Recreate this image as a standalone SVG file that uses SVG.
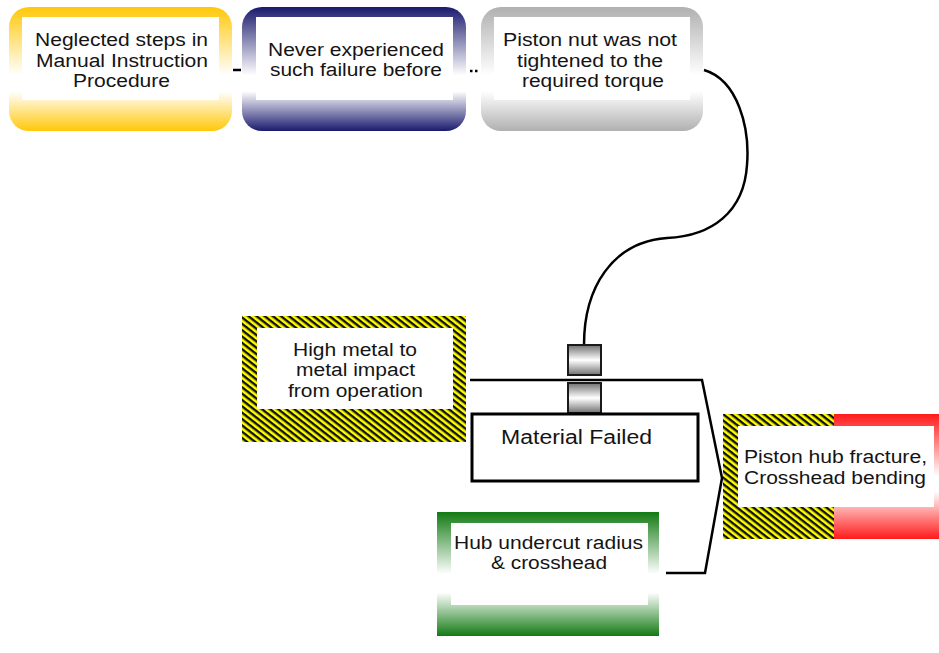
<svg xmlns="http://www.w3.org/2000/svg" width="939" height="653" viewBox="0 0 939 653">
  <defs>
    <linearGradient id="gYellow" x1="0" y1="0" x2="0" y2="1">
      <stop offset="0" stop-color="#FFC80A"/>
      <stop offset="0.55" stop-color="#FFFFFF"/>
      <stop offset="0.68" stop-color="#FFFFFF"/>
      <stop offset="1" stop-color="#FFC80A"/>
    </linearGradient>
    <linearGradient id="gNavy" x1="0" y1="0" x2="0" y2="1">
      <stop offset="0" stop-color="#1A1A6E"/>
      <stop offset="0.55" stop-color="#FFFFFF"/>
      <stop offset="0.68" stop-color="#FFFFFF"/>
      <stop offset="1" stop-color="#1A1A6E"/>
    </linearGradient>
    <linearGradient id="gGray" x1="0" y1="0" x2="0" y2="1">
      <stop offset="0" stop-color="#B0B0B0"/>
      <stop offset="0.55" stop-color="#FFFFFF"/>
      <stop offset="0.68" stop-color="#FFFFFF"/>
      <stop offset="1" stop-color="#B0B0B0"/>
    </linearGradient>
    <linearGradient id="gGreen" x1="0" y1="0" x2="0" y2="1">
      <stop offset="0" stop-color="#127A12"/>
      <stop offset="0.5" stop-color="#FFFFFF"/>
      <stop offset="0.65" stop-color="#FFFFFF"/>
      <stop offset="1" stop-color="#127A12"/>
    </linearGradient>
    <linearGradient id="gRed" x1="0" y1="0" x2="0" y2="1">
      <stop offset="0" stop-color="#FF1A1A"/>
      <stop offset="0.5" stop-color="#FFFFFF"/>
      <stop offset="0.62" stop-color="#FFFFFF"/>
      <stop offset="1" stop-color="#FF1A1A"/>
    </linearGradient>
    <linearGradient id="gPort" x1="0" y1="0" x2="0" y2="1">
      <stop offset="0" stop-color="#707070"/>
      <stop offset="0.5" stop-color="#FFFFFF"/>
      <stop offset="1" stop-color="#707070"/>
    </linearGradient>
    <!-- yellow/black warning stripes -->
    <pattern id="hazard" patternUnits="userSpaceOnUse" width="10" height="5" patternTransform="rotate(38)">
      <rect width="10" height="5" fill="#FFFF00"/>
      <rect width="10" height="2.4" fill="#111111"/>
    </pattern>
  </defs>
  <style>
    .lbl { font-family: "Liberation Sans", Arial, sans-serif; font-size: 18px; fill: #141414; text-anchor: middle; }
    .lft { text-anchor: start; }
    .inner { fill: #FFFFFF; }
    .wire { fill: none; stroke: #000000; stroke-width: 2.5; stroke-linejoin: miter; }
    .port { fill: url(#gPort); stroke: #1a1a1a; stroke-width: 2; }
  </style>

  <rect width="939" height="653" fill="#FFFFFF"/>

  <!-- connectors -->
  <g id="connectors">
    <line class="wire" x1="233" y1="70" x2="241" y2="70" stroke-width="3"/>
    <line class="wire" x1="470" y1="71" x2="480" y2="71" stroke-dasharray="2.5 2.5"/>
    <path class="wire" d="M704,70 C738,80 750,128 747,165 C744,212 712,236 667,238 C612,242 584,288 584,345"/>
    <path class="wire" d="M470,380 L702,380 L722,478 L705,573 L666,573"/>
  </g>

  <!-- top row causes -->
  <g id="node-neglected">
    <rect x="9" y="7" width="223" height="124" rx="20" fill="url(#gYellow)"/>
    <rect class="inner" x="22" y="17" width="197" height="83"/>
    <text class="lbl" x="121.5" y="46" textLength="173" lengthAdjust="spacingAndGlyphs">Neglected steps in</text>
    <text class="lbl" x="122" y="67" textLength="172" lengthAdjust="spacingAndGlyphs">Manual Instruction</text>
    <text class="lbl" x="121.5" y="87" textLength="97" lengthAdjust="spacingAndGlyphs">Procedure</text>
  </g>

  <g id="node-never">
    <rect x="242" y="7" width="224" height="124" rx="20" fill="url(#gNavy)"/>
    <rect class="inner" x="256" y="17" width="197" height="83"/>
    <text class="lbl" x="356" y="56" textLength="176" lengthAdjust="spacingAndGlyphs">Never experienced</text>
    <text class="lbl" x="356" y="76" textLength="172" lengthAdjust="spacingAndGlyphs">such failure before</text>
  </g>

  <g id="node-piston-nut">
    <rect x="481" y="7" width="222" height="124" rx="20" fill="url(#gGray)"/>
    <rect class="inner" x="494" y="17" width="196" height="83"/>
    <text class="lbl" x="590" y="46" textLength="174" lengthAdjust="spacingAndGlyphs">Piston nut was not</text>
    <text class="lbl" x="590" y="67" textLength="146" lengthAdjust="spacingAndGlyphs">tightened to the</text>
    <text class="lbl" x="593" y="87" textLength="142" lengthAdjust="spacingAndGlyphs">required torque</text>
  </g>

  <!-- middle row -->
  <g id="node-impact">
    <rect x="242" y="316" width="224" height="126" fill="url(#hazard)"/>
    <rect class="inner" x="257" y="328" width="196" height="81"/>
    <text class="lbl" x="355" y="356" textLength="124" lengthAdjust="spacingAndGlyphs">High metal to</text>
    <text class="lbl" x="355.5" y="376" textLength="119" lengthAdjust="spacingAndGlyphs">metal impact</text>
    <text class="lbl" x="355.5" y="397" textLength="135" lengthAdjust="spacingAndGlyphs">from operation</text>
  </g>

  <g id="node-ports">
    <rect class="port" x="568" y="345" width="33" height="30"/>
    <rect class="port" x="568" y="383" width="33" height="30"/>
  </g>

  <g id="node-material">
    <rect x="472" y="414" width="226" height="67" fill="#FFFFFF" stroke="#000000" stroke-width="3"/>
    <text class="lbl lft" x="501" y="444" style="font-size:19.5px" textLength="151" lengthAdjust="spacingAndGlyphs">Material Failed</text>
  </g>

  <g id="node-result">
    <rect x="723" y="414" width="111" height="125" fill="url(#hazard)"/>
    <rect x="834" y="414" width="105" height="125" fill="url(#gRed)"/>
    <rect class="inner" x="738" y="426" width="196" height="81"/>
    <text class="lbl lft" x="744" y="463" textLength="183" lengthAdjust="spacingAndGlyphs">Piston hub fracture,</text>
    <text class="lbl lft" x="744" y="484" textLength="182" lengthAdjust="spacingAndGlyphs">Crosshead bending</text>
  </g>

  <g id="node-hub">
    <rect x="437" y="512" width="222" height="124" fill="url(#gGreen)"/>
    <rect class="inner" x="451" y="523" width="197" height="82"/>
    <text class="lbl" x="548.5" y="549" textLength="189" lengthAdjust="spacingAndGlyphs">Hub undercut radius</text>
    <text class="lbl" x="549" y="569" textLength="116" lengthAdjust="spacingAndGlyphs">&amp; crosshead</text>
  </g>
</svg>
